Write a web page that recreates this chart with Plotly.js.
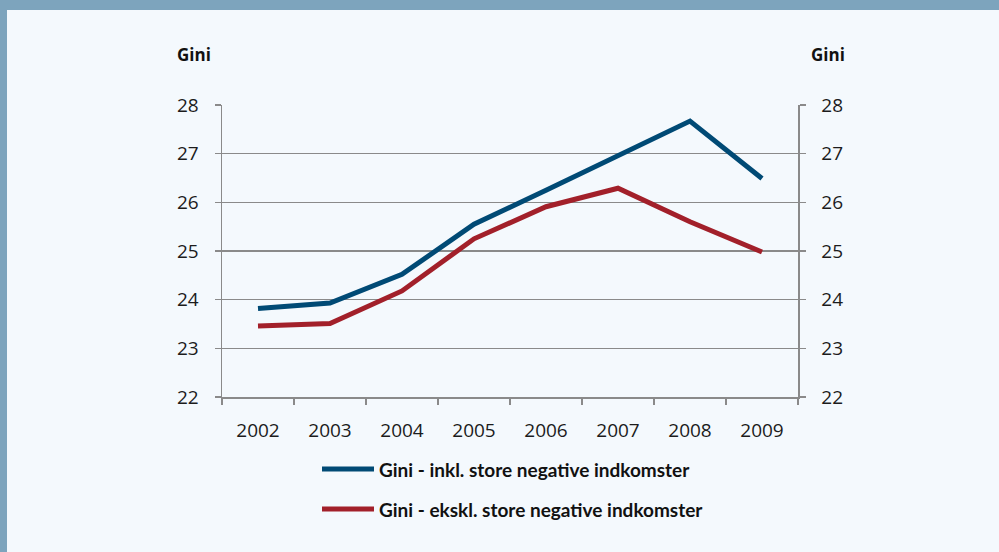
<!DOCTYPE html>
<html>
<head>
<meta charset="utf-8">
<script src="https://cdn.plot.ly/plotly-3.0.1.min.js"></script>
<style>
html,body{margin:0;padding:0;background:#f4f9fd;}
#chart{width:999px;height:552px;}
</style>
</head>
<body>
<div id="chart"></div>
<script>
const years = ['2002','2003','2004','2005','2006','2007','2008','2009'];
const giniInkl = [23.82, 23.93, 24.52, 25.55, 26.25, 26.97, 27.67, 26.49];
const giniEkskl = [23.46, 23.51, 24.18, 25.25, 25.91, 26.29, 25.60, 24.98];
const seriesNames = ['Gini - inkl. store negative indkomster', 'Gini - ekskl. store negative indkomster'];
const seriesColors = ['#004a75', '#a2202a'];
const yTicks = [22, 23, 24, 25, 26, 27, 28];
const axisTitle = 'Gini';

const W = 999, H = 552;
const L = 222, R = 798, T = 105, B = 397;
const px = x => (x - L) / (R - L);
const py = y => (B - y) / (B - T);

const tickFam = '"Open Sans", "DejaVu Sans", sans-serif';
const legFam = 'Lato, "Open Sans", sans-serif';
const grid = '#8a8a8a';
const tickFont = {family: tickFam, size: 19, color: '#1c1c1c'};

const traces = [
  {x: years, y: giniInkl, type: 'scatter', mode: 'lines', name: seriesNames[0],
   line: {color: seriesColors[0], width: 5}, showlegend: false},
  {x: years, y: giniEkskl, type: 'scatter', mode: 'lines', name: seriesNames[1],
   line: {color: seriesColors[1], width: 5}, showlegend: false},
  {x: years, y: giniInkl, yaxis: 'y2', type: 'scatter', mode: 'lines',
   line: {width: 0}, opacity: 0, showlegend: false, hoverinfo: 'skip'}
];

const legendY = [469, 509];
const shapes = [
  {type: 'rect', xref: 'paper', yref: 'paper', x0: px(0), x1: px(7), y0: py(H), y1: py(0),
   fillcolor: '#7da4bd', line: {width: 0}},
  {type: 'rect', xref: 'paper', yref: 'paper', x0: px(0), x1: px(W), y0: py(10), y1: py(0),
   fillcolor: '#7da4bd', line: {width: 0}}
];
const annotations = [
  {xref: 'paper', yref: 'paper', x: px(193.5), y: py(55), xanchor: 'center', yanchor: 'middle',
   text: '<b>' + axisTitle + '</b>', showarrow: false, font: {family: tickFam, size: 17, color: '#111'}},
  {xref: 'paper', yref: 'paper', x: px(828), y: py(55), xanchor: 'center', yanchor: 'middle',
   text: '<b>' + axisTitle + '</b>', showarrow: false, font: {family: tickFam, size: 17, color: '#111'}}
];
seriesNames.forEach((n, i) => {
  shapes.push({type: 'line', xref: 'paper', yref: 'paper', x0: px(322), x1: px(374),
    y0: py(legendY[i]), y1: py(legendY[i]), line: {color: seriesColors[i], width: 5}});
  annotations.push({xref: 'paper', yref: 'paper', x: px(377), y: py(legendY[i]),
    xanchor: 'left', yanchor: 'middle', text: '<b>' + n + '</b>', showarrow: false,
    font: {family: legFam, size: 19, color: '#111'}});
});

const layout = {
  width: W, height: H,
  margin: {l: L, r: W - R, t: T, b: H - B, pad: 0},
  paper_bgcolor: '#f4f9fd', plot_bgcolor: '#f4f9fd',
  font: {family: tickFam, size: 16, color: '#222'},
  showlegend: false,
  xaxis: {type: 'category', range: [-0.5, 7.5], tickson: 'boundaries', ticks: 'outside', ticklen: 6,
    tickcolor: grid, tickwidth: 1.5, showline: true, linecolor: grid, linewidth: 1.5, showgrid: false,
    ticklabelstandoff: 16, tickfont: tickFont, fixedrange: true},
  yaxis: {range: [22, 28], tickvals: yTicks, ticks: 'outside', ticklen: 6, tickcolor: grid,
    tickwidth: 1.5, showline: true, linecolor: grid, linewidth: 1.5, showgrid: true, gridcolor: grid,
    gridwidth: 1.5, zeroline: false, ticklabelstandoff: 12, tickfont: tickFont},
  yaxis2: {range: [22, 28], tickvals: yTicks, overlaying: 'y', side: 'right', ticks: 'outside',
    ticklen: 6, tickcolor: grid, tickwidth: 1.5, showline: true, linecolor: grid, linewidth: 1.5,
    showgrid: false, zeroline: false, ticklabelstandoff: 12, tickfont: tickFont},
  shapes: shapes,
  annotations: annotations
};

Plotly.newPlot('chart', traces, layout, {staticPlot: true});
</script>
</body>
</html>
